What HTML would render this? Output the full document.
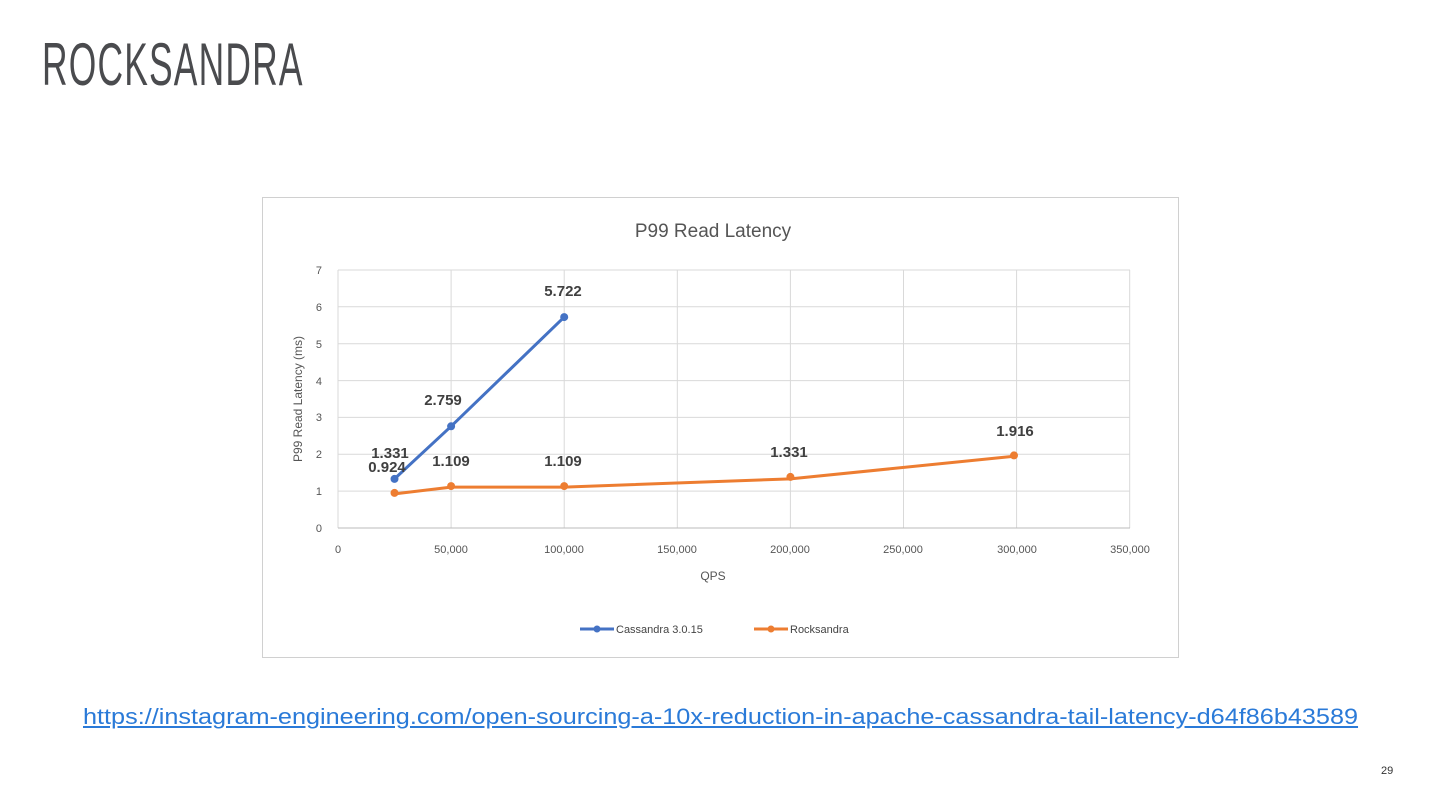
<!DOCTYPE html>
<html><head><meta charset="utf-8"><style>
body{margin:0;width:1440px;height:810px;background:#fff;overflow:hidden;position:relative;font-family:"Liberation Sans",sans-serif}
.t{position:absolute;left:42px;top:30px;font-size:60px;color:#4a4b4e;transform:scaleX(0.59);transform-origin:left top;letter-spacing:2px;line-height:70px}
.u{position:absolute;left:83px;top:704px;font-size:22px;color:#2a7ad8;text-decoration:underline;transform:scaleX(1.147);transform-origin:left top;white-space:nowrap}
.n{position:absolute;left:1381px;top:765px;font-size:11px;color:#333}
</style></head><body>
<div class="t">ROCKSANDRA</div>
<svg width="1440" height="810" style="position:absolute;left:0;top:0" font-family="Liberation Sans, sans-serif">
<rect x="262.5" y="197.5" width="916" height="460" fill="#fff" stroke="#d0d0d0"/>
<text x="713" y="237" font-size="19" fill="#555" text-anchor="middle">P99 Read Latency</text>
<g stroke="#d9d9d9" stroke-width="1">
<line x1="338" y1="491.1" x2="1130" y2="491.1"/><line x1="338" y1="454.3" x2="1130" y2="454.3"/><line x1="338" y1="417.4" x2="1130" y2="417.4"/><line x1="338" y1="380.6" x2="1130" y2="380.6"/><line x1="338" y1="343.7" x2="1130" y2="343.7"/><line x1="338" y1="306.8" x2="1130" y2="306.8"/><line x1="338" y1="270" x2="1130" y2="270"/>
<line x1="338" y1="270" x2="338" y2="528"/><line x1="451.1" y1="270" x2="451.1" y2="528"/><line x1="564.2" y1="270" x2="564.2" y2="528"/><line x1="677.3" y1="270" x2="677.3" y2="528"/><line x1="790.4" y1="270" x2="790.4" y2="528"/><line x1="903.5" y1="270" x2="903.5" y2="528"/><line x1="1016.6" y1="270" x2="1016.6" y2="528"/><line x1="1129.7" y1="270" x2="1129.7" y2="528"/>
</g>
<line x1="338" y1="528" x2="1130" y2="528" stroke="#bbb"/>
<g font-size="11" fill="#555" text-anchor="end">
<text x="322" y="532">0</text><text x="322" y="495">1</text><text x="322" y="458">2</text><text x="322" y="421">3</text><text x="322" y="385">4</text><text x="322" y="348">5</text><text x="322" y="311">6</text><text x="322" y="274">7</text>
</g>
<g font-size="11" fill="#555" text-anchor="middle">
<text x="338" y="553">0</text><text x="451" y="553">50,000</text><text x="564" y="553">100,000</text><text x="677" y="553">150,000</text><text x="790" y="553">200,000</text><text x="903" y="553">250,000</text><text x="1017" y="553">300,000</text><text x="1130" y="553">350,000</text>
</g>
<text x="713" y="580" font-size="12" fill="#555" text-anchor="middle">QPS</text>
<text transform="translate(302,399) rotate(-90)" font-size="12" fill="#555" text-anchor="middle">P99 Read Latency (ms)</text>
<polyline points="394.5,478.9 451.1,426.3 564.2,317.1" fill="none" stroke="#4472c4" stroke-width="3"/>
<g fill="#4472c4"><circle cx="394.5" cy="478.9" r="4"/><circle cx="451.1" cy="426.3" r="4"/><circle cx="564.2" cy="317.1" r="4"/></g>
<polyline points="394.5,493.9 451.1,487.1 564.2,487.1 790.4,478.9 1016.6,456" fill="none" stroke="#ed7d31" stroke-width="3"/>
<g fill="#ed7d31"><circle cx="394.5" cy="492.9" r="4"/><circle cx="451.1" cy="486.1" r="4"/><circle cx="564.2" cy="486.1" r="4"/><circle cx="790.4" cy="476.9" r="4"/><circle cx="1014" cy="455.4" r="4"/></g>
<g font-size="15" font-weight="bold" fill="#404040" text-anchor="middle">
<text x="563" y="296">5.722</text><text x="443" y="405">2.759</text><text x="390" y="458">1.331</text><text x="387" y="472">0.924</text><text x="451" y="466">1.109</text><text x="563" y="466">1.109</text><text x="789" y="457">1.331</text><text x="1015" y="436">1.916</text>
</g>
<line x1="580" y1="629" x2="614" y2="629" stroke="#4472c4" stroke-width="3"/><circle cx="597" cy="629" r="3.5" fill="#4472c4"/>
<text x="616" y="633" font-size="11" fill="#444">Cassandra 3.0.15</text>
<line x1="754" y1="629" x2="788" y2="629" stroke="#ed7d31" stroke-width="3"/><circle cx="771" cy="629" r="3.5" fill="#ed7d31"/>
<text x="790" y="633" font-size="11" fill="#444">Rocksandra</text>
</svg>
<div class="u">https://instagram-engineering.com/open-sourcing-a-10x-reduction-in-apache-cassandra-tail-latency-d64f86b43589</div>
<div class="n">29</div>
</body></html>
